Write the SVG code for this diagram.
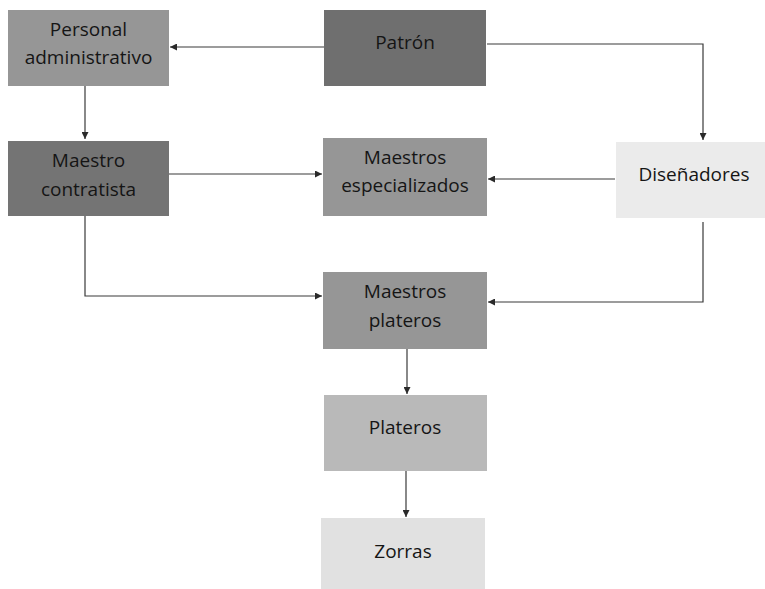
<svg xmlns="http://www.w3.org/2000/svg" width="765" height="589" viewBox="0 0 765 589">
<style>
  .lbl { font-family: "Open Sans", "Liberation Sans", sans-serif; font-size: 19px; fill: #151515; text-anchor: middle; }
  .con { fill: none; stroke: #3a3a3a; stroke-width: 1.2; marker-end: url(#ah); }
</style>
<defs>
  <marker id="ah" viewBox="0 0 10 10" refX="10" refY="5" markerWidth="7" markerHeight="7" markerUnits="userSpaceOnUse" orient="auto">
    <path d="M0,0 L10,5 L0,10 z" fill="#2a2a2a"/>
  </marker>
</defs>
<rect width="765" height="589" fill="#ffffff"/>
<g id="connectors">
  <path class="con" d="M324,47 L170,47"/>
  <path class="con" d="M487,44 L703,44 L703,140"/>
  <path class="con" d="M85,86 L85,139"/>
  <path class="con" d="M169,174 L322,174"/>
  <path class="con" d="M615,179 L488,179"/>
  <path class="con" d="M85,216 L85,296 L322,296"/>
  <path class="con" d="M703,222 L703,302 L488,302"/>
  <path class="con" d="M407,349 L407,394"/>
  <path class="con" d="M406,471 L406,517"/>
</g>
<g id="personal">
  <rect x="8" y="10" width="161" height="76" fill="#969696"/>
  <text class="lbl" x="88.5" y="36">Personal</text>
  <text class="lbl" x="88.5" y="64">administrativo</text>
</g>
<g id="patron">
  <rect x="324" y="10" width="162" height="76" fill="#6f6f6f"/>
  <text class="lbl" x="405" y="49">Patrón</text>
</g>
<g id="maestro-contratista">
  <rect x="8" y="141" width="161" height="75" fill="#747474"/>
  <text class="lbl" x="88.5" y="167">Maestro</text>
  <text class="lbl" x="88.5" y="196">contratista</text>
</g>
<g id="maestros-especializados">
  <rect x="323" y="138" width="164" height="78" fill="#969696"/>
  <text class="lbl" x="405" y="164">Maestros</text>
  <text class="lbl" x="405" y="192">especializados</text>
</g>
<g id="disenadores">
  <rect x="616" y="142" width="149" height="76" fill="#ebebeb"/>
  <text class="lbl" x="694" y="181">Diseñadores</text>
</g>
<g id="maestros-plateros">
  <rect x="323" y="272" width="164" height="77" fill="#969696"/>
  <text class="lbl" x="405" y="298">Maestros</text>
  <text class="lbl" x="405" y="327">plateros</text>
</g>
<g id="plateros">
  <rect x="324" y="395" width="163" height="76" fill="#b9b9b9"/>
  <text class="lbl" x="405" y="434">Plateros</text>
</g>
<g id="zorras">
  <rect x="321" y="518" width="164" height="71" fill="#e1e1e1"/>
  <text class="lbl" x="403" y="558">Zorras</text>
</g>
</svg>
